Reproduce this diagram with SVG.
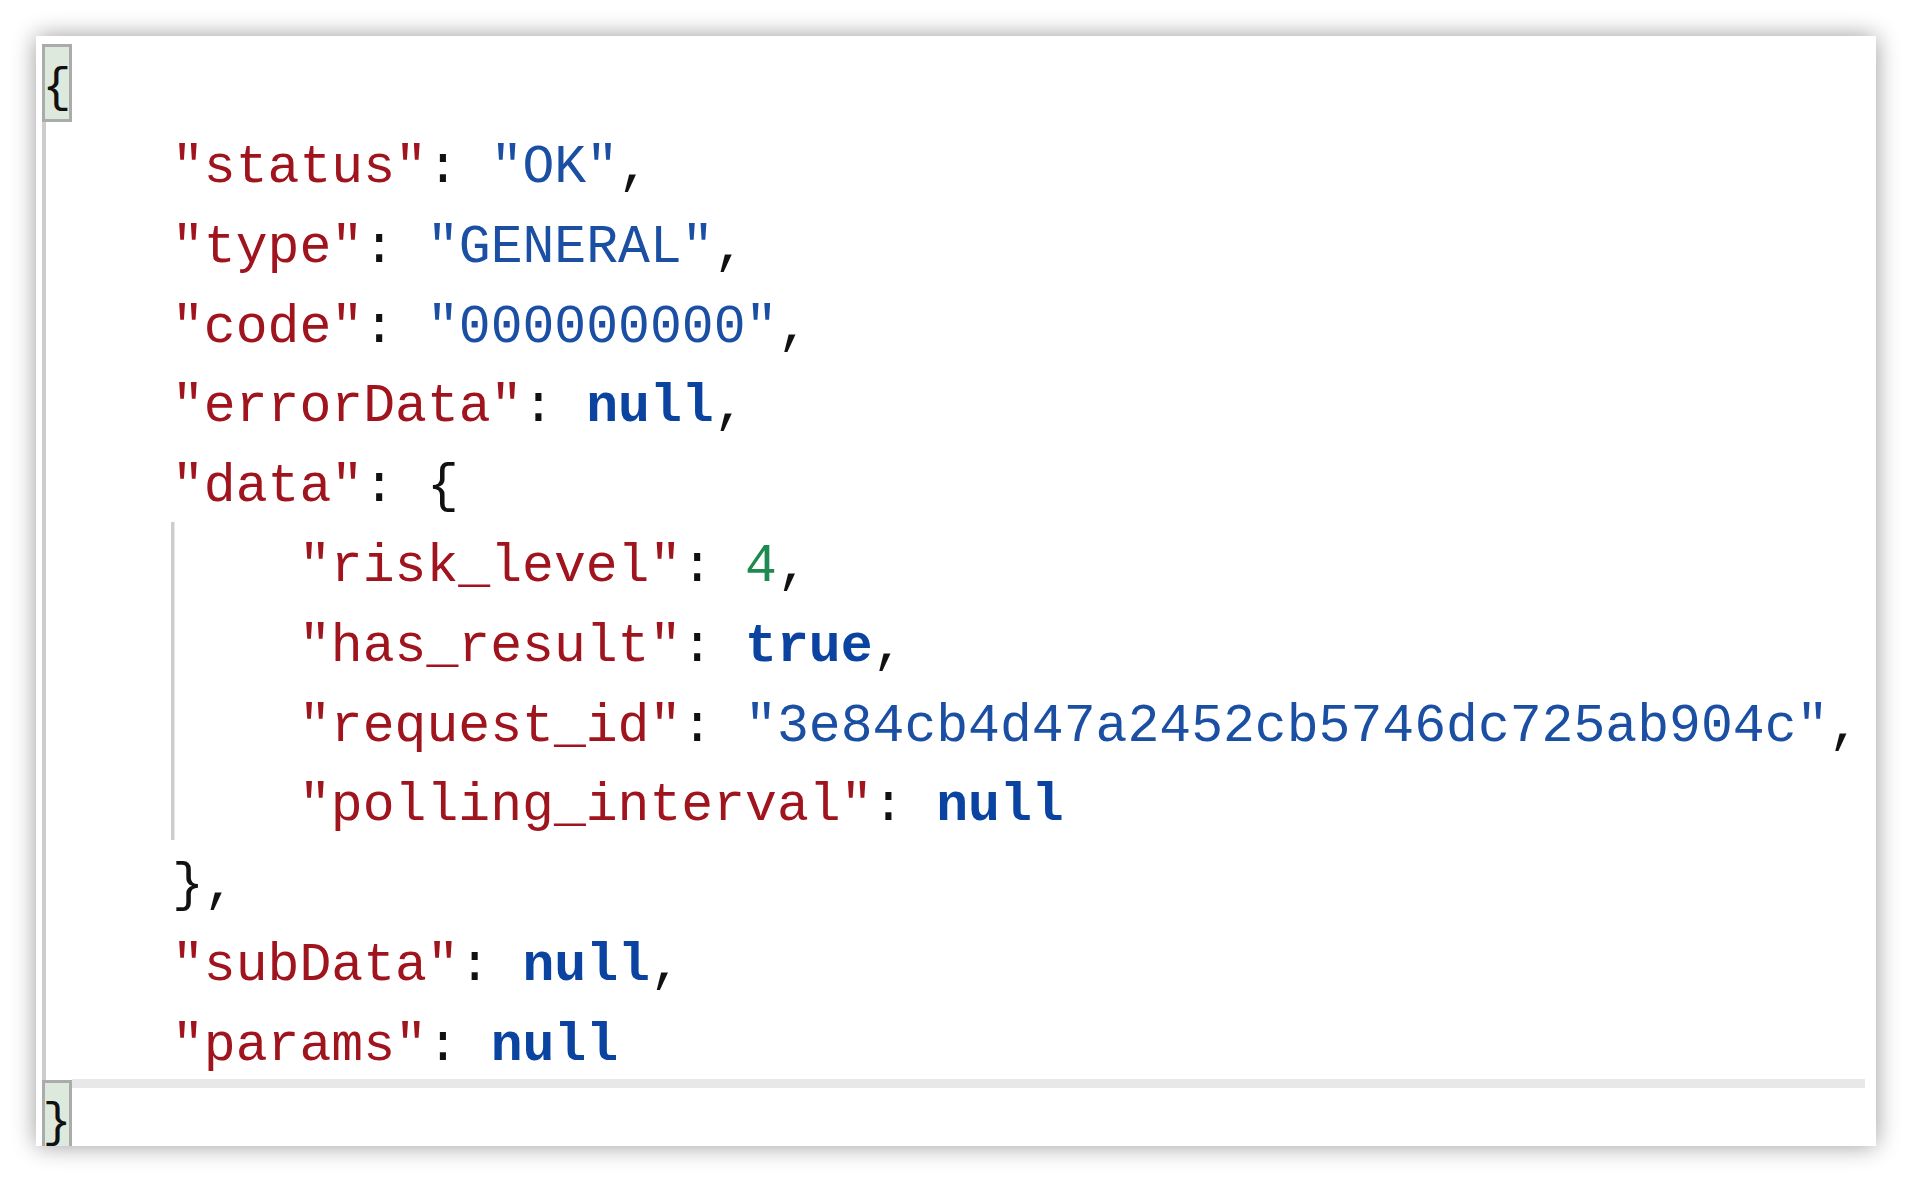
<svg xmlns="http://www.w3.org/2000/svg" width="1912" height="1182" viewBox="0 0 1912 1182">
<defs>
<filter id="shadow" x="-10%" y="-10%" width="120%" height="120%">
<feGaussianBlur in="SourceAlpha" stdDeviation="12"/>
<feComponentTransfer><feFuncA type="linear" slope="0.4"/></feComponentTransfer>
<feMerge><feMergeNode/><feMergeNode in="SourceGraphic"/></feMerge>
</filter>
<clipPath id="panelClip"><rect x="36" y="36" width="1840" height="1110"/></clipPath>
</defs>
<style>
.code{font-family:"Liberation Mono","DejaVu Sans Mono",monospace;font-size:53.1px;fill:#111111;}
.k{fill:#a0141e;}
.s{fill:#1a4fa3;}
.lit{fill:#0b44a0;font-weight:bold;}
.n{fill:#1e8a4f;}
.brace{font-family:"Liberation Mono","DejaVu Sans Mono",monospace;font-size:48px;fill:#111111;}
.guide{fill:#cdcdcd;}
.bbox{fill:#dde9dc;stroke:#ababab;stroke-width:3;}
</style>
<rect width="1912" height="1182" fill="#ffffff"/>
<g id="panel">
<rect x="36" y="36" width="1840" height="1110" fill="#ffffff" filter="url(#shadow)"/>
</g>
<g id="gutter" clip-path="url(#panelClip)">
<rect class="guide" x="42" y="122" width="4" height="960"/>
<rect x="72" y="1079" width="1793" height="9" fill="#e8e8e8"/>
<rect class="bbox" x="43.5" y="45.5" width="27" height="75"/>
<text class="brace" x="57" y="101" text-anchor="middle">{</text>
<rect class="bbox" x="43.5" y="1081.5" width="27" height="75"/>
<text class="brace" x="57" y="1136" text-anchor="middle">}</text>
<rect class="guide" x="171" y="522" width="3.5" height="318"/>
</g>
<g id="json" class="code">
<text x="172" y="182"><tspan class="k">"status"</tspan>: <tspan class="s">"OK"</tspan>,</text>
<text x="172" y="261.8"><tspan class="k">"type"</tspan>: <tspan class="s">"GENERAL"</tspan>,</text>
<text x="172" y="341.6"><tspan class="k">"code"</tspan>: <tspan class="s">"000000000"</tspan>,</text>
<text x="172" y="421.4"><tspan class="k">"errorData"</tspan>: <tspan class="lit">null</tspan>,</text>
<text x="172" y="501.2"><tspan class="k">"data"</tspan>: {</text>
<text x="299" y="581"><tspan class="k">"risk_level"</tspan>: <tspan class="n">4</tspan>,</text>
<text x="299" y="660.8"><tspan class="k">"has_result"</tspan>: <tspan class="lit">true</tspan>,</text>
<text x="299" y="740.6"><tspan class="k">"request_id"</tspan>: <tspan class="s">"3e84cb4d47a2452cb5746dc725ab904c"</tspan>,</text>
<text x="299" y="820.4"><tspan class="k">"polling_interval"</tspan>: <tspan class="lit">null</tspan></text>
<text x="172" y="900.2">},</text>
<text x="172" y="980"><tspan class="k">"subData"</tspan>: <tspan class="lit">null</tspan>,</text>
<text x="172" y="1059.8"><tspan class="k">"params"</tspan>: <tspan class="lit">null</tspan></text>
</g>
</svg>
